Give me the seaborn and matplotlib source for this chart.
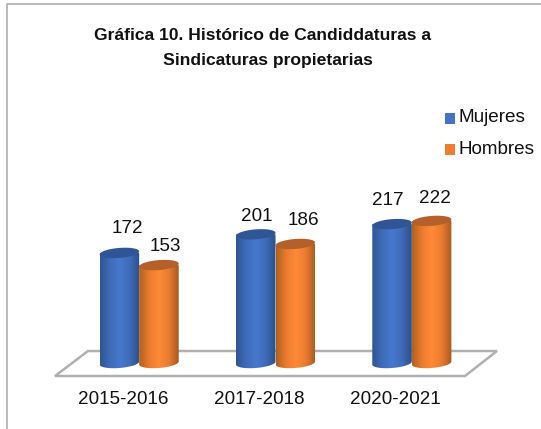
import numpy as np
import pandas as pd
import matplotlib
matplotlib.use('Agg')
import matplotlib.pyplot as plt
import seaborn as sns
from matplotlib.colors import LinearSegmentedColormap
from matplotlib.patches import Patch, Polygon
from matplotlib.transforms import ScaledTranslation

years = ['2015-2016', '2017-2018', '2020-2021']
series = ['Mujeres', 'Hombres']
mujeres = [172, 201, 217]
hombres = [153, 186, 222]

W, H = 541, 429
colors = {'Mujeres': '#4472c4', 'Hombres': '#ed7d31'}
body_colors = {'Mujeres': ['#2f5593', '#3f6cb8', '#4879d0', '#3f6cb8', '#2c5088'],
               'Hombres': ['#b3601f', '#e97c30', '#ff8a36', '#e97c30', '#a85a20']}
top_colors = {'Mujeres': '#2f5597', 'Hombres': '#b5602a'}

sns.set_theme(style='white')
plt.rcParams['font.family'] = ['Liberation Sans', 'DejaVu Sans']

df = pd.DataFrame({
    'year': years * 2,
    'serie': [series[0]] * 3 + [series[1]] * 3,
    'value': mujeres + hombres,
})

fig = plt.figure(figsize=(W / 100, H / 100), dpi=100, facecolor='white')
px_unit = 0.64
ax_left, ax_right, ax_top, ax_bottom = 71, 480, 100, 385
base_px = 363
ax = fig.add_axes([ax_left / W, 1 - ax_bottom / H, (ax_right - ax_left) / W, (ax_bottom - ax_top) / H])
ax.patch.set_visible(False)
ax.set_zorder(2)

sns.barplot(data=df, x='year', y='value', hue='serie', order=years, hue_order=series,
            palette=colors, width=0.58, gap=0, legend=False, ax=ax)


def fig_xy(x, y):
    return (x / W, 1 - y / H)


# marco y piso
fig.add_artist(plt.Line2D([7 / W, 7 / W, 1], [0, 1 - 4 / H, 1 - 4 / H], color='#a6a6a6', lw=1.1, zorder=0))
floor = Polygon([fig_xy(55, 376), fig_xy(88, 351), fig_xy(497, 351), fig_xy(465, 376)], closed=True,
                transform=fig.transFigure, facecolor='white', edgecolor='#b0b0b0', lw=1.8, zorder=1)
fig.add_artist(floor)

ry = 5 / px_unit
tilt = 1.5 / px_unit
theta = np.linspace(0, 2 * np.pi, 120)
label_off = {'Mujeres': [(8, 24), (1, 18), (-4, 24)], 'Hombres': [(6, 19), (8, 23), (3, 22)]}

for container, name in zip(ax.containers, series):
    cmap = LinearSegmentedColormap.from_list(name, body_colors[name])
    for i, bar in enumerate(container):
        bar.set_visible(False)
        x0, w, h = bar.get_x(), bar.get_width(), bar.get_height()
        cx = x0 + w / 2
        ex = cx + w / 2 * np.cos(theta)
        lower = np.sin(theta) <= 0
        ey = ry * np.sin(theta) + tilt * np.cos(theta)

        # cuerpo del cilindro: sombra horizontal recortada a la silueta
        order = np.argsort(ex[lower])
        low_x, low_y = ex[lower][order], ey[lower][order]
        outline = np.column_stack([np.r_[low_x, x0 + w, x0], np.r_[low_y, h, h]])
        im = ax.imshow(np.linspace(0, 1, 64).reshape(1, -1), cmap=cmap, aspect='auto',
                       extent=[x0, x0 + w, -ry - tilt, h], zorder=3 + i)
        clip = Polygon(outline, closed=True, transform=ax.transData)
        im.set_clip_path(clip)
        ax.add_patch(Polygon(np.column_stack([ex, ey + h]), closed=True, facecolor=top_colors[name],
                             edgecolor='none', zorder=3 + i))

        dx, dy = label_off[name][i]
        ax.annotate(str(int(h)), (cx, h), xytext=(dx * 0.72, dy * 0.72), textcoords='offset points',
                    ha='center', va='center', fontsize=13.6, color='#111111', zorder=10)

ax.set_xlim(-0.5, 2.5)
ax.set_ylim((base_px - ax_bottom) / px_unit, (base_px - ax_top) / px_unit)
ax.set_xlabel('')
ax.set_ylabel('')
ax.set_yticks([])
ax.tick_params(axis='x', length=0, pad=4.5, labelsize=13.6, labelcolor='#111111')
# las etiquetas del eje van corridas a la izquierda por la perspectiva
shift = ScaledTranslation(-16 / 100, 0, fig.dpi_scale_trans)
for label in ax.get_xticklabels():
    label.set_transform(label.get_transform() + shift)
sns.despine(ax=ax, left=True, bottom=True)

fig.text(263 / W, 1 - 36 / H, 'Gráfica 10. Histórico de Candiddaturas a', ha='center', va='center',
         fontsize=12.6, fontweight='bold', color='#111111')
fig.text(268 / W, 1 - 60 / H, 'Sindicaturas propietarias', ha='center', va='center',
         fontsize=12.6, fontweight='bold', color='#111111')

handles = [Patch(facecolor=colors[s], edgecolor='none', label=s) for s in series]
leg = fig.legend(handles=handles, loc='upper left', bbox_to_anchor=(445 / W, 1 - 109 / H), frameon=False,
                 fontsize=13.6, handlelength=0.53, handleheight=0.53, handletextpad=0.2,
                 labelspacing=0.78, borderpad=0, borderaxespad=0, labelcolor='#111111')
# los cuadros quedan un poco mas abajo que el texto
for p in leg.get_patches():
    p.set_y(p.get_y() - 2)

fig.savefig('out.png', dpi=100)
plt.close()
